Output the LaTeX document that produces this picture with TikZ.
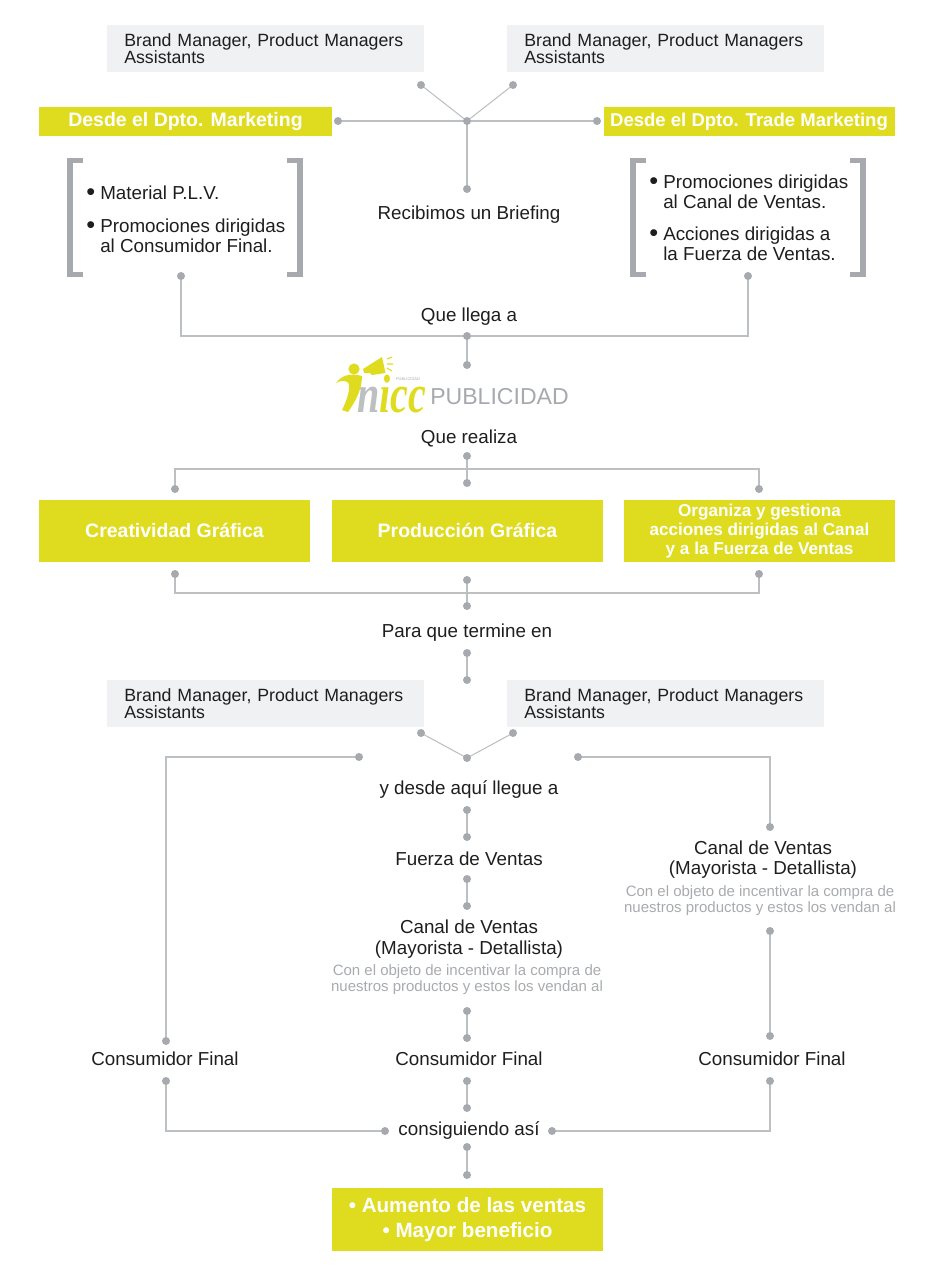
\documentclass[tikz,border=0pt]{standalone}
\usepackage{fontspec}
\usepackage{graphicx}
\setmainfont{Liberation Sans}
\newfontfamily\logoserif{Liberation Serif}
\usetikzlibrary{backgrounds}
\definecolor{ylw}{HTML}{DFDC1F}
\definecolor{lnc}{HTML}{BDC0C3}
\definecolor{dtc}{HTML}{A6AAAE}
\definecolor{pale}{HTML}{F0F1F2}
\definecolor{txt}{HTML}{1E1E1E}
\definecolor{sub}{HTML}{A8ABAE}
\tikzset{
 x=0.75pt,y=-0.75pt,
 pt/.style={circle,fill=dtc,inner sep=0pt,minimum size=6pt},
 conn/.style={draw=lnc,line width=0.8pt},
 ybox/.style={fill=ylw,text=white,inner sep=0pt,align=center,font=\fontsize{14.6pt}{14.25pt}\selectfont\bfseries},
 gbox/.style={fill=pale,text=txt,inner xsep=12.75pt,inner ysep=0pt,align=left,anchor=north west,minimum height=35.25pt,text width=212pt,font=\fontsize{13.3pt}{13pt}\selectfont},
 lbl/.style={text=txt,inner sep=0pt,font=\fontsize{14.1pt}{15.4pt}\selectfont,align=center},
 sublbl/.style={text=sub,inner sep=0pt,align=center,font=\fontsize{11.25pt}{12pt}\selectfont},
 brk/.style={draw=dtc,line width=4.2pt,line cap=butt,miter limit=10},
 lst/.style={text=txt,inner sep=0pt,anchor=base west,align=left,font=\fontsize{14.1pt}{15pt}\selectfont}
}
\newcommand{\blt}{\makebox[10.5pt][l]{\fontsize{19pt}{15pt}\selectfont\raisebox{-1pt}{•}}}
\newcommand{\ind}{\hspace{10.5pt}}
\begin{document}
\begin{tikzpicture}
\useasboundingbox (0,0) rectangle (940,1278);
% top boxes
\node[gbox] (b1) at (107,25) {Brand Manager, Product Managers\\Assistants};
\node[gbox] (b2) at (507,25) {Brand Manager, Product Managers\\Assistants};
\node[ybox,minimum width=219.75pt,minimum height=21.75pt] (mk) at (185.5,121.5) {\raisebox{-1.5pt}{Desde el Dpto. Marketing}};
\node[ybox,minimum width=218.25pt,minimum height=21.75pt,font=\fontsize{13.9pt}{14pt}\selectfont\bfseries] (tm) at (749,121.5) {\raisebox{-1.5pt}{Desde el Dpto. Trade Marketing}};
% brackets
\draw[brk] (83,160.5) -- (70,160.5) -- (70,274.5) -- (83,274.5);
\draw[brk] (287,160.5) -- (300,160.5) -- (300,274.5) -- (287,274.5);
\draw[brk] (646,160.5) -- (633,160.5) -- (633,274.5) -- (646,274.5);
\draw[brk] (850,160.5) -- (863,160.5) -- (863,274.5) -- (850,274.5);
% lists
\node[lst] (l1) at (86,199) {\blt Material P.L.V.};
\node[lst] (l2) at (86,252) {\blt Promociones dirigidas\\\ind al Consumidor Final.};
\node[lst] (r1) at (649,208) {\blt Promociones dirigidas\\\ind al Canal de Ventas.};
\node[lst] (r2) at (649,260) {\blt Acciones dirigidas a\\\ind la Fuerza de Ventas.};
\node[lbl] (brief) at (469,215) {Recibimos un Briefing};
\node[lbl] (llega) at (469,317) {Que llega a};
\node[lbl] (real) at (469,438) {Que realiza};
% logo
\node[inner sep=0pt,anchor=base west] (nicc) at (357,412) {\logoserif\fontsize{30pt}{30pt}\selectfont\smash{\scalebox{1}[1.35]{\bfseries\itshape\textcolor{lnc}{n}\textcolor{ylw}{icc}}}};
\fill[ylw] (354,369) circle (4.2pt);
\fill[ylw] (363,369) -- (382,357) -- (385.5,373) -- (372,375) -- (370,373) -- (364,373) -- cycle;
\draw[ylw,line width=0.8pt] (387,359) -- (392,357) (387,364) -- (393,364) (387,368) -- (392,371);
\fill[ylw] (336,383) .. controls (342,375) and (350,373) .. (362,376) .. controls (362,390) and (355,402) .. (348,412) -- (342,410) .. controls (347,400) and (350,390) .. (349,384) .. controls (347,380) and (341,380) .. (336,383) -- cycle;
\node[inner sep=0pt,text=sub] (pubs) at (408,379) {\fontsize{3pt}{3pt}\selectfont PUBLICIDAD};
\node[inner sep=0pt,anchor=west,text=dtc] (pub) at (430,397) {\fontsize{17.3pt}{16pt}\selectfont PUBLICIDAD};
% middle boxes
\node[ybox,minimum width=203.25pt,minimum height=46.5pt] (c1) at (174.5,531) {\raisebox{0.7pt}{Creatividad Gráfica}};
\node[ybox,minimum width=203.25pt,minimum height=46.5pt] (c2) at (467.5,531) {\raisebox{0.7pt}{Producción Gráfica}};
\node[ybox,minimum width=203.25pt,minimum height=46.5pt,font=\fontsize{12.85pt}{14.25pt}\selectfont\bfseries] (c3) at (759.5,531) {Organiza y gestiona\\acciones dirigidas al Canal\\y a la Fuerza de Ventas};
\node[lbl] (term) at (467,633) {Para que termine en};
\node[gbox] (b3) at (107,680) {Brand Manager, Product Managers\\Assistants};
\node[gbox] (b4) at (507,680) {Brand Manager, Product Managers\\Assistants};
\node[lbl] (aqui) at (469,790) {y desde aquí llegue a};
\node[lbl] (fv) at (469,859) {Fuerza de Ventas};
\node[lbl] (can1) at (469,939) {Canal de Ventas\\(Mayorista - Detallista)};
\node[sublbl] (s1) at (467,980) {Con el objeto de incentivar la compra de\\nuestros productos y estos los vendan al};
\node[lbl] (can2) at (763,859.5) {Canal de Ventas\\(Mayorista - Detallista)};
\node[sublbl] (s2) at (760,901) {Con el objeto de incentivar la compra de\\nuestros productos y estos los vendan al};
\node[lbl] (cf1) at (165,1059) {Consumidor Final};
\node[lbl] (cf2) at (469,1059) {Consumidor Final};
\node[lbl] (cf3) at (772,1059) {Consumidor Final};
\node[lbl] (cons) at (469,1131) {consiguiendo así};
\node[ybox,minimum width=203.25pt,minimum height=47.25pt,font=\fontsize{15.45pt}{19pt}\selectfont\bfseries] (res) at (467.5,1219.5) {\raisebox{-2pt}{• Aumento de las ventas}\\\raisebox{-1.5pt}{• Mayor beneficio}};
% dots
\foreach \n/\x/\y in {a1/421/85,a2/513/85,a0/467/121,al/338/121,ar/597/121,ab/467/189,
 q1/181/276,q2/748/276,q3/467/336,q4/467/365,
 k1/467/456,k2/175/489,k3/467/483,k4/759/489,
 m1/175/574,m2/467/580,m3/759/574,m4/467/606,
 n1/467/653,n2/467/680,
 p1/421/733,p2/513/733,p0/467/758,pl/359/757,pr/578/757,
 e1/467/810,e2/467/837,f1/467/879,f2/467/906,g1/467/1011,g2/467/1038,
 h1/166/1041,h2/770/827,i1/770/931,i2/770/1036,
 j1/166/1081,j2/467/1081,j3/770/1081,j4/385/1131,j5/552/1131,j6/467/1108,
 o1/467/1147,o2/467/1175}
 {\node[pt] (\n) at (\x,\y) {};}
\coordinate (k0) at (467,469);
\coordinate (m0) at (467,593);
\begin{scope}[on background layer]
\draw[conn] (a1.center) -- (a0.center) -- (a2.center);
\draw[conn] (al.center) -- (ar.center);
\draw[conn] (a0.center) -- (ab.center);
\draw[conn] (q1.center) |- (q3.center) -| (q2.center);
\draw[conn] (q3.center) -- (q4.center);
\draw[conn] (k1.center) -- (k3.center);
\draw[conn] (k2.center) |- (k0) -| (k4.center);
\draw[conn] (m1.center) |- (m0) -| (m3.center);
\draw[conn] (m2.center) -- (m4.center);
\draw[conn] (n1.center) -- (n2.center);
\draw[conn] (p1.center) -- (p0.center) -- (p2.center);
\draw[conn] (pl.center) -| (h1.center);
\draw[conn] (pr.center) -| (h2.center);
\draw[conn] (e1.center) -- (e2.center);
\draw[conn] (f1.center) -- (f2.center);
\draw[conn] (g1.center) -- (g2.center);
\draw[conn] (i1.center) -- (i2.center);
\draw[conn] (j1.center) |- (j4.center);
\draw[conn] (j3.center) |- (j5.center);
\draw[conn] (j2.center) -- (j6.center);
\draw[conn] (o1.center) -- (o2.center);
\end{scope}
\end{tikzpicture}
\end{document}
